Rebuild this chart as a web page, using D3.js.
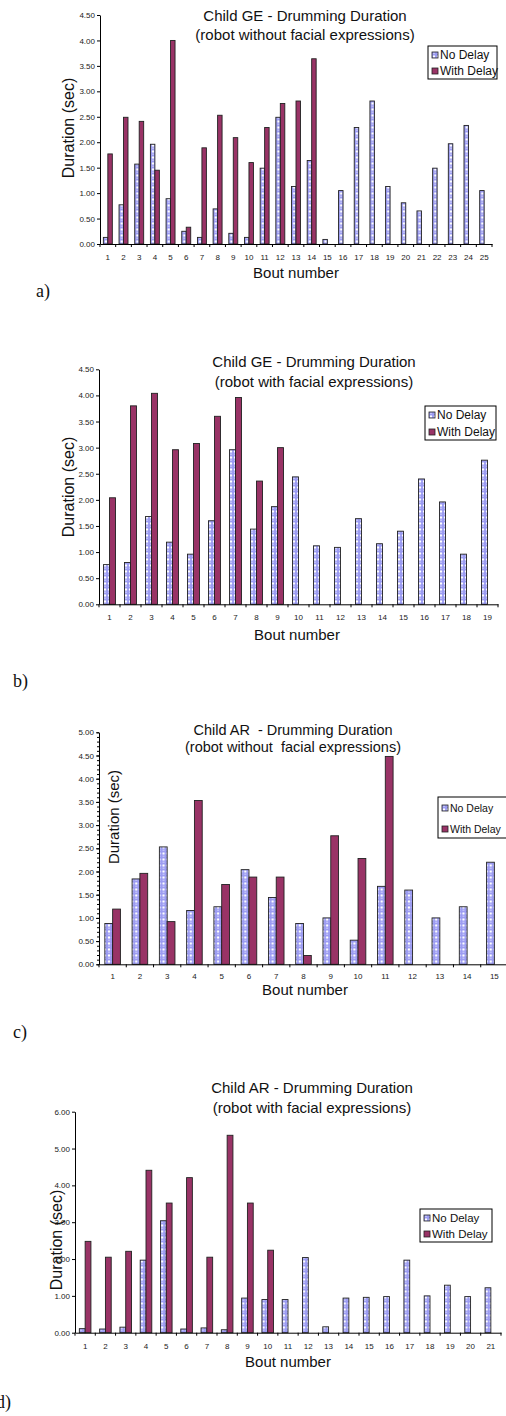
<!DOCTYPE html>
<html>
<head>
<meta charset="utf-8">
<script src="https://cdn.jsdelivr.net/npm/d3@7"></script>
<style>
  body { margin: 0; background: #fff; }
  text { font-family: "Liberation Sans", Arial, sans-serif; }
</style>
</head>
<body>
<script>
// data (seconds), null = no bar
var boutsA = d3.range(1, 26);
var noDelayA   = [0.13,0.77,1.57,1.96,0.89,0.25,0.13,0.69,0.21,0.13,1.49,2.49,1.13,1.64,0.09,1.05,2.29,2.81,1.13,0.81,0.65,1.49,1.97,2.33,1.05];
var withDelayA = [1.77,2.49,2.41,1.45,4.00,0.33,1.89,2.53,2.09,1.60,2.29,2.76,2.81,3.64,null,null,null,null,null,null,null,null,null,null,null];

var boutsB = d3.range(1, 20);
var noDelayB   = [0.76,0.80,1.68,1.19,0.96,1.60,2.96,1.44,1.87,2.44,1.12,1.09,1.64,1.16,1.40,2.40,1.96,0.96,2.76];
var withDelayB = [2.04,3.80,4.04,2.96,3.08,3.60,3.96,2.36,3.00,null,null,null,null,null,null,null,null,null,null];

var boutsC = d3.range(1, 16);
var noDelayC   = [0.88,1.84,2.53,1.16,1.24,2.04,1.44,0.88,1.00,0.52,1.68,1.60,1.00,1.24,2.20];
var withDelayC = [1.19,1.96,0.92,3.53,1.72,1.88,1.88,0.19,2.77,2.28,4.48,null,null,null,null];

var boutsD = d3.range(1, 22);
var noDelayD   = [0.11,0.10,0.15,1.97,3.04,0.10,0.13,0.08,0.94,0.90,0.90,2.04,0.16,0.94,0.96,0.98,1.97,1.00,1.29,0.98,1.22];
var withDelayD = [2.48,2.05,2.21,4.41,3.52,4.21,2.05,5.36,3.52,2.24,null,null,null,null,null,null,null,null,null,null,null];

var seriesNames = ["No Delay", "With Delay"];
var wdColor = "#993366";

var svg = d3.select("body").append("svg").attr("width", 506).attr("height", 1416);

// pattern for the "No Delay" bars
var defs = svg.append("defs");
var pat = defs.append("pattern").attr("id", "nd").attr("patternUnits", "userSpaceOnUse")
    .attr("width", 4).attr("height", 6);
pat.append("rect").attr("width", 4).attr("height", 6).attr("fill", "#9c9cf2");
pat.append("ellipse").attr("cx", 2).attr("cy", 1.5).attr("rx", 1.1).attr("ry", 1.3).attr("fill", "#fff");
pat.append("rect").attr("x", 1.5).attr("y", 3.5).attr("width", 1).attr("height", 1.5).attr("fill", "#e6e6ff");

function drawChart(cfg) {
    var g = svg.append("g");
    var x = d3.scaleBand().domain(cfg.bouts).range([cfg.x0, cfg.x1]).padding(0);
    var xs = d3.scaleBand().domain(seriesNames).range([0, x.bandwidth()]).paddingInner(0).paddingOuter(0.75);
    var y = d3.scaleLinear().domain([0, cfg.yMax]).range([cfg.yBase, cfg.yTop]);

    // bars
    var rows = cfg.bouts.map(function (b, i) {
        return { bout: b, vals: [cfg.nd[i], cfg.wd[i]] };
    });
    var grp = g.selectAll(".grp").data(rows).enter().append("g")
        .attr("transform", function (d) { return "translate(" + x(d.bout) + ",0)"; });
    grp.selectAll("rect").data(function (d) {
        return d.vals.map(function (v, j) { return { s: seriesNames[j], v: v }; })
            .filter(function (e) { return e.v != null; });
    }).enter().append("rect")
        .attr("x", function (d) { return xs(d.s); })
        .attr("width", xs.bandwidth())
        .attr("y", function (d) { return y(d.v); })
        .attr("height", function (d) { return cfg.yBase - y(d.v); })
        .attr("fill", function (d) { return d.s == "No Delay" ? "url(#nd)" : wdColor; })
        .attr("stroke", "#222").attr("stroke-width", 0.9);

    // y axis
    var yAxis = d3.axisLeft(y).tickValues(d3.range(0, cfg.yMax + 1e-9, cfg.yStep))
        .tickSize(3).tickSizeOuter(0).tickPadding(2).tickFormat(d3.format(".2f"));
    var ya = g.append("g").attr("transform", "translate(" + cfg.x0 + ",0)").call(yAxis);
    ya.selectAll("text").style("font-size", "8px").attr("fill", "#222");
    if (cfg.minor) {
        g.append("g").attr("transform", "translate(" + cfg.x0 + ",0)")
            .call(d3.axisLeft(y).tickValues(d3.range(0, cfg.yMax + 1e-9, cfg.minor))
                .tickSize(2).tickSizeOuter(0).tickFormat(""));
    }

    // x axis
    var xAxis = d3.axisBottom(x).tickSize(0).tickPadding(cfg.xpad || 10.5);
    var xa = g.append("g").attr("transform", "translate(0," + cfg.yBase + ")").call(xAxis);
    xa.selectAll("text").style("font-size", "8px").attr("fill", "#222");
    var edges = cfg.bouts.map(function (b) { return x(b); }).concat([cfg.x1]);
    g.selectAll(".xt").data(edges).enter().append("line")
        .attr("x1", function (d) { return d; }).attr("x2", function (d) { return d; })
        .attr("y1", cfg.yBase).attr("y2", cfg.yBase + 3)
        .attr("stroke", "#000");
    g.selectAll(".domain").attr("stroke", "#000");
    g.selectAll(".tick line").attr("stroke", "#000");

    // titles
    g.append("text").attr("x", cfg.tx).attr("y", cfg.ty1).attr("text-anchor", "middle")
        .style("font-size", cfg.tfs + "px").style("white-space", "pre").attr("fill", "#111").text(cfg.title1);
    g.append("text").attr("x", cfg.tx).attr("y", cfg.ty2).attr("text-anchor", "middle")
        .style("font-size", cfg.tfs + "px").style("white-space", "pre").attr("fill", "#111").text(cfg.title2);
    g.append("text").attr("transform", "translate(" + cfg.yx + "," + cfg.yy + ") rotate(-90)")
        .attr("text-anchor", "middle").attr("dy", "0.35em")
        .style("font-size", cfg.yfs + "px").attr("fill", "#111").text("Duration (sec)");
    g.append("text").attr("x", cfg.xx).attr("y", cfg.xy).attr("text-anchor", "middle")
        .style("font-size", "15px").attr("fill", "#111").text("Bout number");

    // legend
    var L = cfg.legend;
    g.append("rect").attr("x", L.x).attr("y", L.y).attr("width", L.w).attr("height", L.h)
        .attr("fill", "#fff").attr("stroke", "#000");
    var li = g.selectAll(".leg").data(seriesNames).enter().append("g")
        .attr("transform", function (d, i) { return "translate(" + (L.x + 4) + "," + L.rows[i] + ")"; });
    li.append("rect").attr("x", 0).attr("y", -3).attr("width", 6).attr("height", 6)
        .attr("fill", function (d) { return d == "No Delay" ? "url(#nd)" : wdColor; })
        .attr("stroke", "#222").attr("stroke-width", 0.8);
    li.append("text").attr("x", 8).attr("dy", "0.35em").style("font-size", L.fs + "px")
        .attr("fill", "#111").text(function (d) { return d; });

    // panel label
    g.append("text").attr("x", cfg.px).attr("y", cfg.py)
        .style("font-family", "'Liberation Serif', 'Times New Roman', serif").style("font-size", "18px")
        .attr("fill", "#111").text(cfg.panel);
}

drawChart({
    bouts: boutsA, nd: noDelayA, wd: withDelayA,
    x0: 100, x1: 492, yTop: 15, yBase: 244, yMax: 4.5, yStep: 0.5,
    title1: "Child GE - Drumming Duration", title2: "(robot without facial expressions)",
    tx: 305, ty1: 21, ty2: 40, tfs: 15,
    yx: 68, yy: 128, yfs: 16, xx: 296, xy: 278,
    legend: { x: 428, y: 46, w: 69, h: 33, rows: [55, 71], fs: 12 },
    panel: "a)", px: 36, py: 297
});

drawChart({
    bouts: boutsB, nd: noDelayB, wd: withDelayB,
    x0: 99, x1: 498, yTop: 369.3, yBase: 604.3, yMax: 4.5, yStep: 0.5,
    title1: "Child GE - Drumming Duration", title2: "(robot with facial expressions)",
    tx: 314, ty1: 367, ty2: 387, tfs: 15,
    yx: 68, yy: 487, yfs: 16, xx: 297, xy: 640,
    legend: { x: 425, y: 406, w: 71, h: 34, rows: [415, 432], fs: 12 },
    panel: "b)", px: 13, py: 687
});

drawChart({
    bouts: boutsC, nd: noDelayC, wd: withDelayC,
    x0: 99, x1: 508, yTop: 732.3, yBase: 964.3, yMax: 5, yStep: 0.5, minor: 0.1,
    title1: "Child AR  - Drumming Duration", title2: "(robot without  facial expressions)",
    tx: 293, ty1: 735, ty2: 752, tfs: 14.5,
    yx: 114, yy: 817, yfs: 15, xx: 305, xy: 995, xpad: 9,
    legend: { x: 438, y: 797, w: 80, h: 41, rows: [808, 829], fs: 10.5 },
    panel: "c)", px: 13, py: 1038
});

drawChart({
    bouts: boutsD, nd: noDelayD, wd: withDelayD,
    x0: 75, x1: 501, yTop: 1111.7, yBase: 1332.7, yMax: 6, yStep: 1,
    title1: "Child AR - Drumming Duration", title2: "(robot with facial expressions)",
    tx: 312, ty1: 1093, ty2: 1113, tfs: 15,
    yx: 56, yy: 1240, yfs: 16, xx: 288, xy: 1367,
    legend: { x: 420, y: 1209, w: 72, h: 33, rows: [1218, 1234], fs: 11.5 },
    panel: "d)", px: -4, py: 1408
});
</script>
</body>
</html>
